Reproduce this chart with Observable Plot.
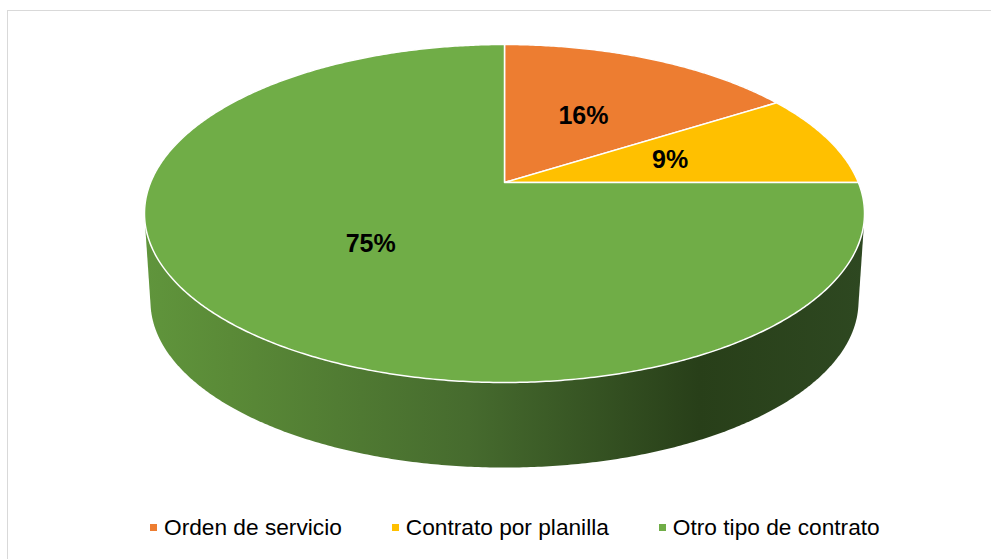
<!DOCTYPE html>
<html><head><meta charset="utf-8">
<script src="https://cdn.jsdelivr.net/npm/d3@7"></script>
<script src="https://cdn.jsdelivr.net/npm/@observablehq/plot@0.6"></script>
<style>
body{margin:0;background:#fff;}
#wrap{position:relative;width:991px;height:559px;overflow:hidden;font-family:"Liberation Sans",Arial,sans-serif;}
#frame{position:absolute;left:7px;top:10px;width:1100px;height:700px;border-top:1.5px solid #d9d9d9;border-left:1.5px solid #d9d9d9;}
#chart{position:absolute;left:0;top:0;}
#legend{position:absolute;left:150px;top:514px;display:flex;align-items:center;font-size:22.7px;line-height:26px;color:#000;white-space:nowrap;}
#legend .item{display:flex;align-items:center;margin-right:50px;}
#legend .sw{width:7px;height:7px;margin-right:7px;}
</style>
</head><body>
<div id="wrap"><div id="frame"></div><div id="chart"></div><div id="legend"></div></div>
<script>
const categories = ["Orden de servicio", "Contrato por planilla", "Otro tipo de contrato"];
const values = [16, 9, 75];
const labels = ["16%", "9%", "75%"];
const colors = ["#ED7D31", "#FFC000", "#70AD47"];

const W = 991, H = 500, CX = 504, CY = 182;
const P = 0.1834;
const TOP = {a: 353.9, b: 163.3, dy: 0};
const BOT = {a: 348, b: 160.6, dy: 88.4};
function proj(angle, r, f) {
  const u = r * Math.sin(angle), v = -r * Math.cos(angle);
  const w = 1 - P * v;
  return [f.a * u / w, f.dy + f.b * v / w];
}

const arcs = d3.pie().sort(null).value(d => d)(values);
const slicePts = [];
arcs.forEach((a, i) => {
  const c = proj(a.startAngle, 0, TOP);
  slicePts.push({id: i, x: c[0], y: c[1], fill: colors[i]});
  const n = Math.max(2, Math.ceil((a.endAngle - a.startAngle) / (Math.PI / 360)));
  for (let k = 0; k <= n; k++) {
    const t = a.startAngle + (a.endAngle - a.startAngle) * k / n;
    const [x, y] = proj(t, 1, TOP);
    slicePts.push({id: i, x, y, fill: colors[i]});
  }
});

const ring = [];
for (let k = 0; k < 720; k++) {
  const t = k * Math.PI / 360;
  ring.push(proj(t, 1, TOP), proj(t, 1, BOT));
}
const sidePts = d3.polygonHull(ring).map(([x, y]) => ({x, y}));

const labelData = arcs.map((a, i) => {
  const [x, y] = proj((a.startAngle + a.endAngle) / 2, 0.5, TOP);
  return {x, y, text: labels[i]};
});

const svg = Plot.plot({
  width: W, height: H, margin: 0,
  x: {domain: [-CX, W - CX], range: [0, W], axis: null},
  y: {domain: [-CY, H - CY], range: [0, H], axis: null},
  color: {type: "identity"},
  marks: [
    Plot.line(sidePts, {x: "x", y: "y", curve: "linear-closed", fill: "url(#sideGrad)", stroke: "none"}),
    Plot.line(slicePts, {x: "x", y: "y", z: "id", fill: "fill", stroke: "white", strokeWidth: 1.5, strokeLinejoin: "round", curve: "linear-closed"}),
    Plot.text(labelData, {x: "x", y: "y", text: "text", fontSize: 25, fontWeight: "bold", fill: "black", fontFamily: "Liberation Sans"})
  ]
});
const ns = "http://www.w3.org/2000/svg";
const defs = document.createElementNS(ns, "defs");
const grad = document.createElementNS(ns, "linearGradient");
grad.setAttribute("id", "sideGrad");
grad.setAttribute("x1", "0"); grad.setAttribute("x2", "1");
grad.setAttribute("y1", "0"); grad.setAttribute("y2", "0");
[[0, "#60953c"], [0.12, "#5a8a37"], [0.45, "#466b2e"], [0.77, "#283f19"], [1, "#2e4821"]].forEach(([o, c]) => {
  const s = document.createElementNS(ns, "stop");
  s.setAttribute("offset", o); s.setAttribute("stop-color", c);
  grad.appendChild(s);
});
defs.appendChild(grad);
svg.insertBefore(defs, svg.firstChild);
svg.style.background = "transparent";
document.getElementById("chart").appendChild(svg);

const leg = document.getElementById("legend");
categories.forEach((c, i) => {
  const it = document.createElement("div"); it.className = "item";
  const sw = document.createElement("div"); sw.className = "sw"; sw.style.background = colors[i];
  const tx = document.createElement("span"); tx.textContent = c;
  it.appendChild(sw); it.appendChild(tx); leg.appendChild(it);
});
</script>
</body></html>
